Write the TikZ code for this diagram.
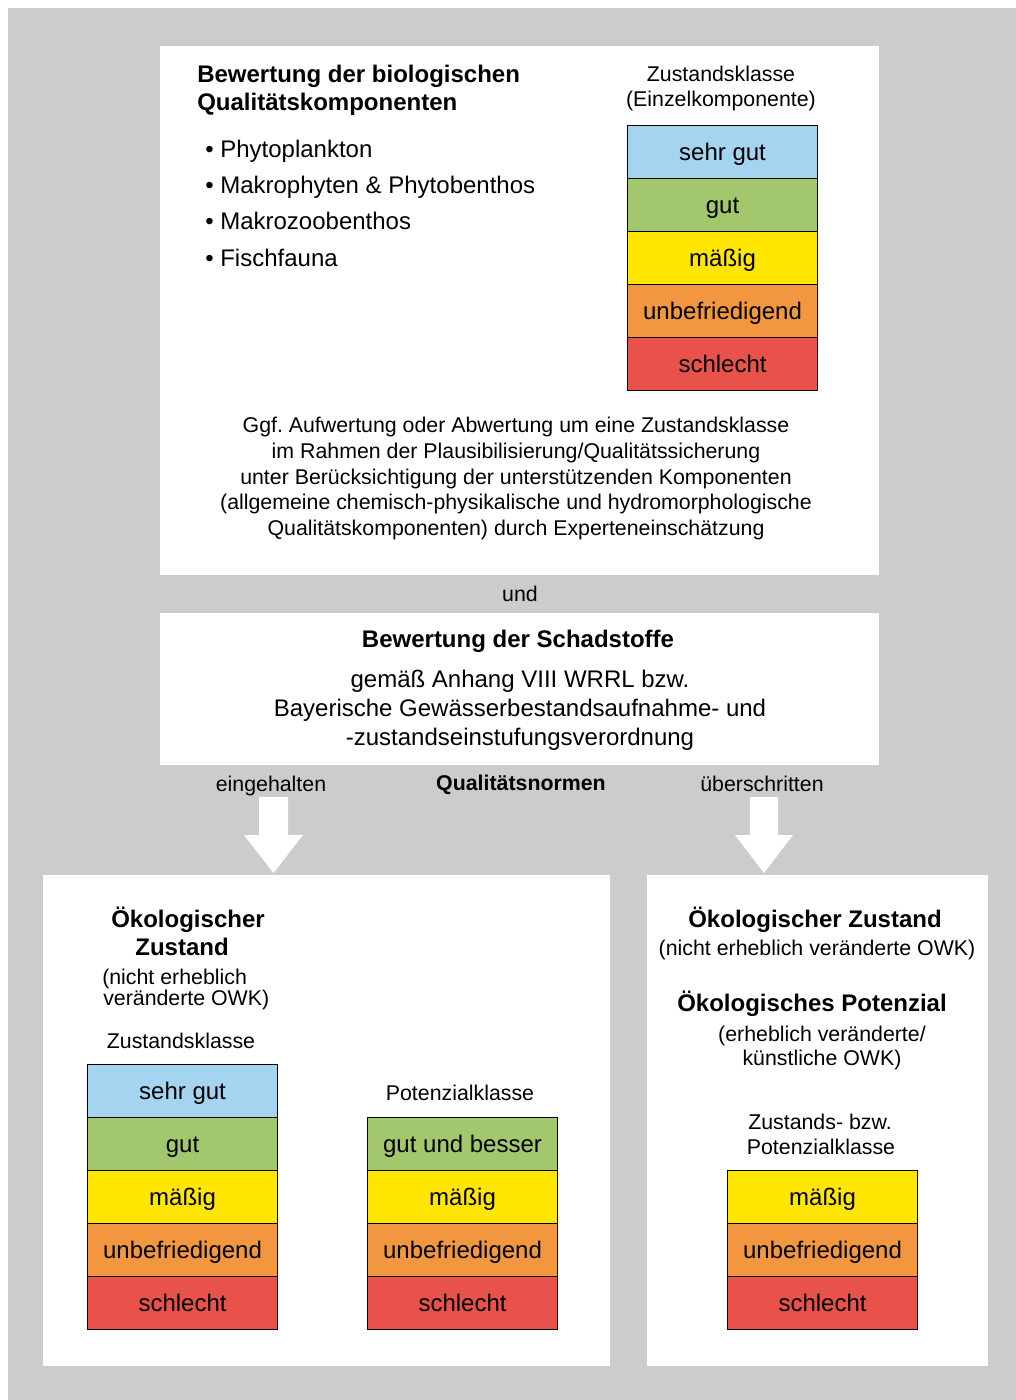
\documentclass[tikz,border=0pt]{standalone}
\usepackage{fontspec}
\setmainfont{Liberation Sans}
\frenchspacing
\definecolor{bggray}{HTML}{CCCCCC}
\definecolor{cblue}{HTML}{A5D4F0}
\definecolor{cgreen}{HTML}{A3C76D}
\definecolor{cyellow}{HTML}{FFE600}
\definecolor{corange}{HTML}{F2963F}
\definecolor{cred}{HTML}{E8524A}
\begin{document}
\begin{tikzpicture}[x=0.75pt,y=-0.75pt,
  txt/.style={inner sep=0pt, font=\fontsize{18}{21.75}\selectfont, anchor=base},
  small/.style={inner sep=0pt, font=\fontsize{16}{19.2}\selectfont, anchor=base},
  hd/.style={inner sep=0pt, font=\fontsize{18}{21.75}\selectfont\bfseries, anchor=base},
  hdsmall/.style={inner sep=0pt, font=\fontsize{16}{19.2}\selectfont\bfseries, anchor=base},
  cls/.style={draw=black, line width=0.8pt, minimum width=142.5pt, minimum height=39.75pt,
    inner sep=0pt, text height=12pt, text depth=0pt, anchor=north west, font=\fontsize{18}{21.75}\selectfont},
  blockarrow/.style={fill=white, draw=none}]
\useasboundingbox (0,0) rectangle (1016,1400);
\fill[bggray] (8,8) rectangle (1016,1400);
% panels
\fill[white] (160,46) rectangle (879,575);
\fill[white] (160,613) rectangle (879,765);
\fill[white] (43,875) rectangle (610,1366);
\fill[white] (647,875) rectangle (988,1366);

% top panel
\node[hd, anchor=base west] (h1) at (197,82) {Bewertung der biologischen};
\node[hd, anchor=base west] (h2) at (197,110) {Qualitätskomponenten};
\node[txt, anchor=base west] (b1) at (205,157) {• Phytoplankton};
\node[txt, anchor=base west] (b2) at (205,193) {• Makrophyten \& Phytobenthos};
\node[txt, anchor=base west] (b3) at (205,229.5) {• Makrozoobenthos};
\node[txt, anchor=base west] (b4) at (205,266) {• Fischfauna};
\node[small] (zk1) at (721,81) {Zustandsklasse};
\node[small] (zk2) at (721,106.5) {(Einzelkomponente)};
\node[cls, fill=cblue] (t1) at (627,125) {sehr gut};
\node[cls, fill=cgreen] (t2) at (627,178) {gut};
\node[cls, fill=cyellow] (t3) at (627,231) {mäßig};
\node[cls, fill=corange] (t4) at (627,284) {unbefriedigend};
\node[cls, fill=cred] (t5) at (627,337) {schlecht};
\node[small] (p1) at (516,432) {Ggf. Aufwertung oder Abwertung um eine Zustandsklasse};
\node[small] (p2) at (516,458) {im Rahmen der Plausibilisierung/Qualitätssicherung};
\node[small] (p3) at (516,484) {unter Berücksichtigung der unterstützenden Komponenten};
\node[small] (p4) at (516,509.5) {(allgemeine chemisch-physikalische und hydromorphologische};
\node[small] (p5) at (516,535) {Qualitätskomponenten) durch Experteneinschätzung};

\node[small] (und) at (520,601) {und};

% second panel
\node[hd] (s1) at (518,647) {Bewertung der Schadstoffe};
\node[txt] (s2) at (520,687) {gemäß Anhang VIII WRRL bzw.};
\node[txt] (s3) at (520,716) {Bayerische Gewässerbestandsaufnahme- und};
\node[txt] (s4) at (520,745) {-zustandseinstufungsverordnung};

\node[small] (ein) at (271,791) {eingehalten};
\node[hdsmall] (qn) at (521,790) {Qualitätsnormen};
\node[small] (ueb) at (762,791) {überschritten};

% block arrows
\coordinate (arrL) at (273.5,873);
\coordinate (arrR) at (764,873);
\fill[blockarrow] (259,797) -- (288,797) -- (288,835) -- (303,835) -- (arrL) -- (244,835) -- (259,835) -- cycle;
\fill[blockarrow] (750,797) -- (778,797) -- (778,835) -- (793,835) -- (arrR) -- (735,835) -- (750,835) -- cycle;

% bottom left panel
\node[hd] (l1) at (188,927) {Ökologischer};
\node[hd] (l2) at (182,955) {Zustand};
\node[small, anchor=base west] (l3) at (102,984) {(nicht erheblich};
\node[small, anchor=base west] (l4) at (103,1005) {veränderte OWK)};
\node[small] (l5) at (181,1048) {Zustandsklasse};
\node[cls, fill=cblue] (z1) at (87,1064) {sehr gut};
\node[cls, fill=cgreen] (z2) at (87,1117) {gut};
\node[cls, fill=cyellow] (z3) at (87,1170) {mäßig};
\node[cls, fill=corange] (z4) at (87,1223) {unbefriedigend};
\node[cls, fill=cred] (z5) at (87,1276) {schlecht};
\node[small] (pk) at (460,1100) {Potenzialklasse};
\node[cls, fill=cgreen] (q1) at (367,1117) {gut und besser};
\node[cls, fill=cyellow] (q2) at (367,1170) {mäßig};
\node[cls, fill=corange] (q3) at (367,1223) {unbefriedigend};
\node[cls, fill=cred] (q4) at (367,1276) {schlecht};

% bottom right panel
\node[hd] (r1) at (815,927) {Ökologischer Zustand};
\node[small] (r2) at (817,955) {(nicht erheblich veränderte OWK)};
\node[hd] (r3) at (812,1011) {Ökologisches Potenzial};
\node[small] (r4) at (822,1041) {(erheblich veränderte/};
\node[small] (r5) at (822,1065) {künstliche OWK)};
\node[small] (r6) at (820,1129) {Zustands- bzw.};
\node[small] (r7) at (821,1154) {Potenzialklasse};
\node[cls, fill=cyellow] (w1) at (727,1170) {mäßig};
\node[cls, fill=corange] (w2) at (727,1223) {unbefriedigend};
\node[cls, fill=cred] (w3) at (727,1276) {schlecht};
\end{tikzpicture}
\end{document}
